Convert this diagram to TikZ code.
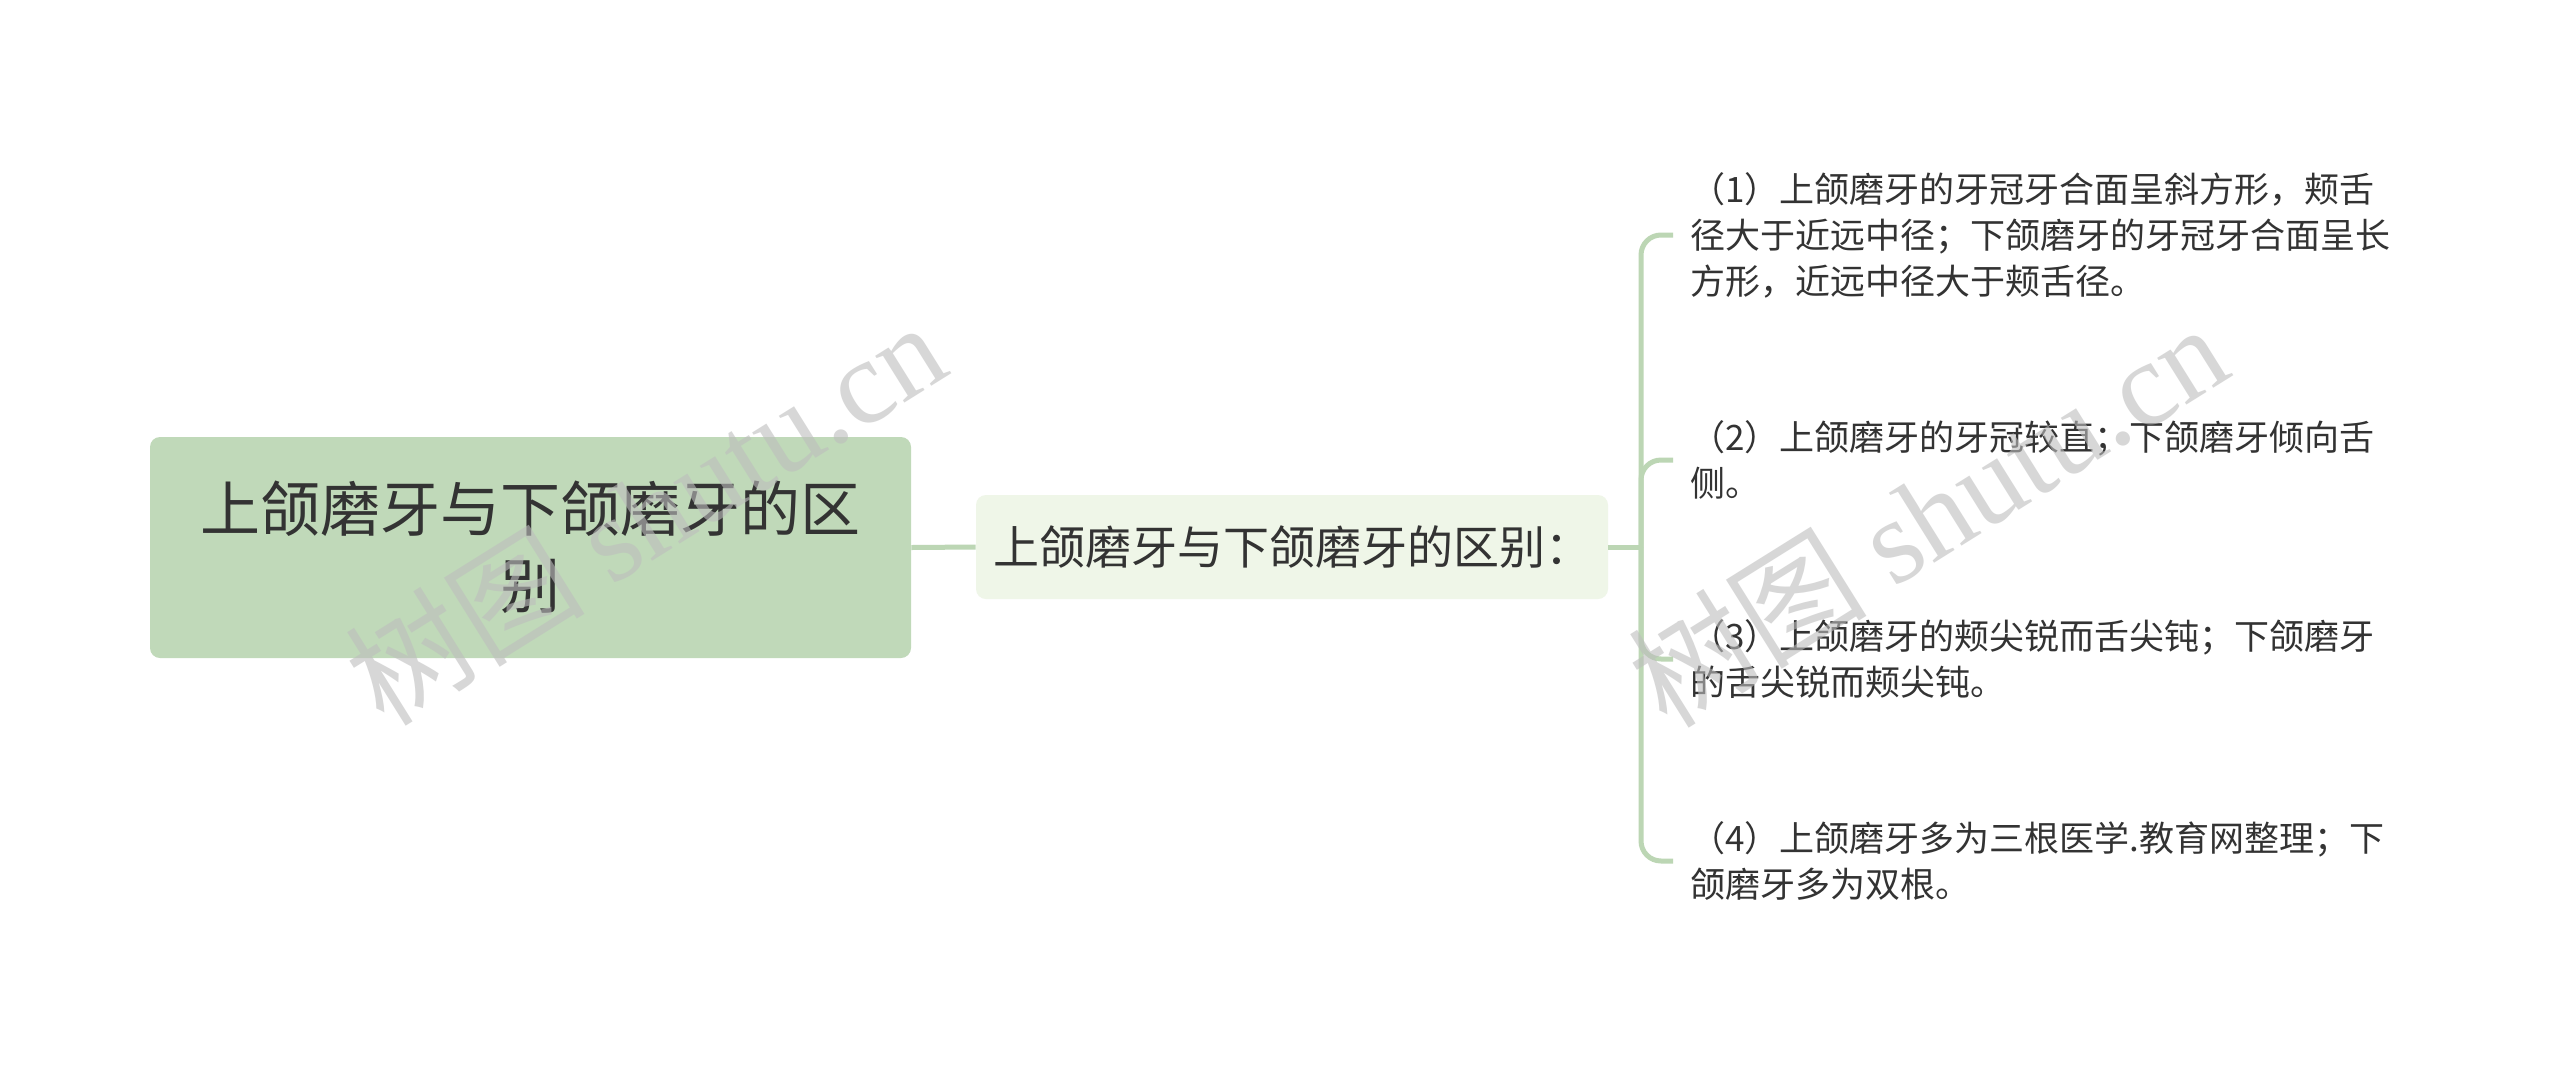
\documentclass[tikz,border=0pt]{standalone}
\usepackage{fontspec}
\setmainfont{Noto Sans CJK SC}
\newfontfamily\cjk{Noto Sans CJK SC}
\newfontfamily\wmserif{Liberation Serif}
\definecolor{rootfill}{HTML}{C0D9B9}
\definecolor{midfill}{HTML}{EFF6E8}
\definecolor{linkc}{HTML}{BCD6B4}
\definecolor{txt}{HTML}{333333}
\definecolor{wmc}{HTML}{BDBDBD}
\tikzset{
  rootbox/.style={fill=rootfill, rounded corners=5pt, align=center, text=txt,
    font=\fontsize{30pt}{38.5pt}\selectfont, inner sep=0pt},
  midbox/.style={fill=midfill, rounded corners=5pt, align=center, text=txt,
    font=\fontsize{23pt}{27pt}\selectfont, inner sep=0pt},
  leaf/.style={anchor=west, align=left, text=txt, inner xsep=8.5pt, inner ysep=0pt,
    font=\fontsize{17.5pt}{23pt}\selectfont},
  conn/.style={draw=linkc, line width=2.5pt},
  wm/.style={rotate=32, text=wmc, opacity=0.6, font=\fontsize{60pt}{60pt}\selectfont}
}
\begin{document}
\begin{tikzpicture}[x=0.5pt,y=-0.5pt]
\useasboundingbox[fill=white] (0,0) rectangle (2560,1072);
\node[rootbox, minimum width=380.5pt, minimum height=110.5pt] (root) at (530.5,547.5) {上颌磨牙与下颌磨牙的区\\别};
\node[midbox, minimum width=316pt, minimum height=52pt] (mid) at (1292,547) {上颌磨牙与下颌磨牙的区别：};
\coordinate (fork) at (1641,547);
\node[leaf] (l1) at (1673,235) {（1）上颌磨牙的牙冠牙合面呈斜方形，颊舌\\径大于近远中径；下颌磨牙的牙冠牙合面呈长\\方形，近远中径大于颊舌径。};
\node[leaf] (l2) at (1673,460) {（2）上颌磨牙的牙冠较直；下颌磨牙倾向舌\\侧。};
\node[leaf] (l3) at (1673,659) {（3）上颌磨牙的颊尖锐而舌尖钝；下颌磨牙\\的舌尖锐而颊尖钝。};
\node[leaf] (l4) at (1673,861) {（4）上颌磨牙多为三根医学.教育网整理；下\\颌磨牙多为双根。};
\draw[conn] (root.east) -- (mid.west);
\draw[conn] (mid.east) -- (fork);
\foreach \n in {l1,l2,l3,l4}{
  \draw[conn, rounded corners=10pt] (fork) |- (\n.west);
}
\node[wm] (wm1) at (645,512) {{\cjk 树图} {\wmserif shutu.cn}};
\node[wm] (wm2) at (1927,514) {{\cjk 树图} {\wmserif shutu.cn}};
\end{tikzpicture}
\end{document}
